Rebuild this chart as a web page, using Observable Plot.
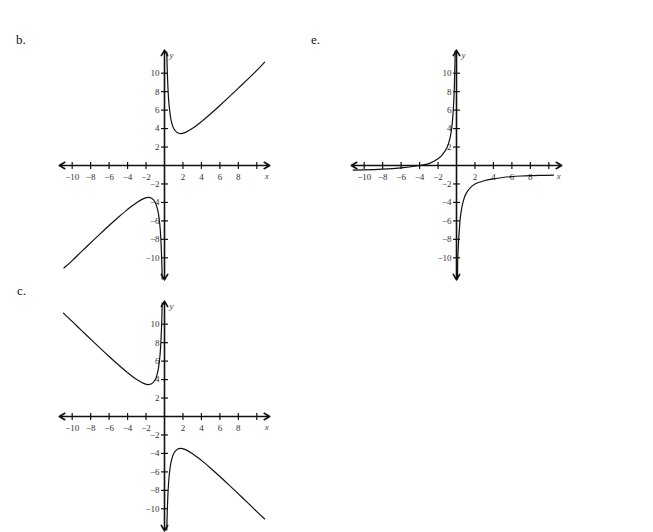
<!DOCTYPE html>
<html>
<head>
<meta charset="utf-8">
<script src="https://cdn.jsdelivr.net/npm/d3@7"></script>
<script src="https://cdn.jsdelivr.net/npm/@observablehq/plot@0.6"></script>
<style>
  html, body { margin: 0; padding: 0; background: #fff; }
  #wrap { position: relative; width: 653px; height: 532px; overflow: hidden; }
  .panel { position: absolute; }
  .tag { position: absolute; font-family: "Liberation Serif", serif; font-size: 13px; line-height: 1; color: #111; }
</style>
</head>
<body>
<div id="wrap"></div>
<script>
// ---- data ----
const tickValues = [-10, -8, -6, -4, -2, 2, 4, 6, 8, 10];
const xTickLabels = [-10, -8, -6, -4, -2, 2, 4, 6, 8];
const yTickLabels = [-10, -8, -6, -4, -2, 2, 4, 6, 8, 10];
const xAxisEnds = [-11.4, 11.4];
const yAxisEnds = [-12.4, 12.5];

const panelNames = ["b.", "e.", "c."];

// panel b
const bRight = [[0.25,12.3],[0.3,10.3],[0.4,7.9],[0.5,6.5],[0.7,5.0],[1.0,4.0],[1.4,3.54],[1.75,3.46],[2.2,3.56],[3,4.0],[4,4.75],[5,5.6],[6,6.5],[7,7.43],[8,8.38],[9,9.33],[10,10.3],[10.85,11.2]];
const bLeft = [[-10.9,-11.1],[-10,-10.3],[-9,-9.33],[-8,-8.38],[-7,-7.43],[-6,-6.5],[-5,-5.6],[-4,-4.75],[-3,-4.0],[-2.2,-3.56],[-1.75,-3.46],[-1.4,-3.54],[-1.0,-4.0],[-0.7,-5.0],[-0.5,-6.5],[-0.4,-7.9],[-0.3,-10.3],[-0.25,-12.3]];

// panel e
const eLeft = [[-11.2,-0.5],[-10,-0.48],[-8,-0.4],[-6,-0.25],[-4,0.0],[-3,0.2],[-2,0.72],[-1.5,1.2],[-1,2.0],[-0.7,3.0],[-0.5,4.2],[-0.35,6.0],[-0.25,8.0],[-0.18,10.5],[-0.14,12.4]];
const eRight = [[0.11,-12.3],[0.14,-10],[0.24,-8],[0.38,-6],[0.5,-5],[0.7,-4],[1,-3.1],[1.5,-2.4],[2,-2.0],[3,-1.65],[4,-1.45],[5,-1.3],[6,-1.2],[7,-1.14],[8,-1.1],[9,-1.07],[10.5,-1.05]];

// panel c
const cLeft = [[-10.95,11.2],[-10,10.3],[-9,9.33],[-8,8.38],[-7,7.43],[-6,6.5],[-5,5.6],[-4,4.75],[-3,4.0],[-2.2,3.56],[-1.75,3.46],[-1.4,3.54],[-1.0,4.0],[-0.7,5.0],[-0.5,6.5],[-0.4,7.9],[-0.3,10.3],[-0.25,12.3]];
const cRight = [[0.25,-12.3],[0.3,-10.3],[0.4,-7.9],[0.5,-6.5],[0.7,-5.0],[1.0,-4.0],[1.4,-3.54],[1.75,-3.46],[2.2,-3.56],[3,-4.0],[4,-4.75],[5,-5.6],[6,-6.5],[7,-7.43],[8,-8.38],[9,-9.33],[10,-10.3],[10.85,-11.1]];

// ---- layout (panel origin on page) ----
const panels = [
  {name: panelNames[0], branches: [bLeft, bRight], ox: 164.3, oy: 164.5, tagX: 16, tagY: 33},
  {name: panelNames[1], branches: [eLeft, eRight], ox: 455.8, oy: 165.0, tagX: 311, tagY: 33},
  {name: panelNames[2], branches: [cLeft, cRight], ox: 164.3, oy: 415.7, tagX: 17, tagY: 284}
];

const SIZE = 240, DOM = 13;
const ink = "#111";
const fontFam = "'Liberation Serif', 'Times New Roman', serif";
const fmt = v => (v < 0 ? "\u2212" + Math.abs(v) : String(v));

const vTick = {draw(ctx, size) { const r = Math.sqrt(size / Math.PI); ctx.moveTo(0, -r); ctx.lineTo(0, r); }};
const hTick = {draw(ctx, size) { const r = Math.sqrt(size / Math.PI); ctx.moveTo(-r, 0); ctx.lineTo(r, 0); }};

const wrap = document.getElementById("wrap");

for (const p of panels) {
  const axisSegs = [
    {x1: 0, y1: 0, x2: xAxisEnds[1], y2: 0},
    {x1: 0, y1: 0, x2: xAxisEnds[0], y2: 0},
    {x1: 0, y1: 0, x2: 0, y2: yAxisEnds[1]},
    {x1: 0, y1: 0, x2: 0, y2: yAxisEnds[0]}
  ];
  const curveMarks = p.branches.map(br =>
    Plot.line(br, {x: d => d[0], y: d => d[1], curve: "catmull-rom", stroke: ink, strokeWidth: 1.2})
  );
  const chart = Plot.plot({
    width: SIZE, height: SIZE, margin: 0,
    x: {domain: [-DOM, DOM], axis: null},
    y: {domain: [-DOM, DOM], axis: null},
    style: {background: "transparent", overflow: "visible", fontFamily: fontFam},
    marks: [
      Plot.arrow(axisSegs, {x1: "x1", y1: "y1", x2: "x2", y2: "y2", headLength: 6, stroke: ink, strokeWidth: 1.6}),
      Plot.dot(tickValues, {x: d => d, y: d => 0, symbol: vTick, r: 3.5, fill: "none", stroke: ink, strokeWidth: 1.2}),
      Plot.dot(tickValues, {x: d => 0, y: d => d, symbol: hTick, r: 3.5, fill: "none", stroke: ink, strokeWidth: 1.2}),
      Plot.text(xTickLabels, {x: d => d, y: d => 0, text: fmt, dy: 12, fontSize: 9, fill: "#333"}),
      Plot.text(yTickLabels, {x: d => 0, y: d => d, text: fmt, dx: -5, textAnchor: "end", fontSize: 9, fill: "#333"}),
      Plot.text(["x"], {x: d => xAxisEnds[1], y: d => 0, text: d => d, dy: 11, dx: -3, fontSize: 9, fontStyle: "italic", fill: "#444"}),
      Plot.text(["y"], {x: d => 0, y: d => yAxisEnds[1], text: d => d, dx: 7, dy: 5, fontSize: 9, fontStyle: "italic", fill: "#444"}),
      ...curveMarks
    ]
  });
  chart.classList.add("panel");
  chart.style.left = (p.ox - SIZE / 2) + "px";
  chart.style.top = (p.oy - SIZE / 2) + "px";
  wrap.appendChild(chart);

  const tag = document.createElement("div");
  tag.className = "tag";
  tag.textContent = p.name;
  tag.style.left = p.tagX + "px";
  tag.style.top = p.tagY + "px";
  wrap.appendChild(tag);
}
</script>
</body>
</html>
